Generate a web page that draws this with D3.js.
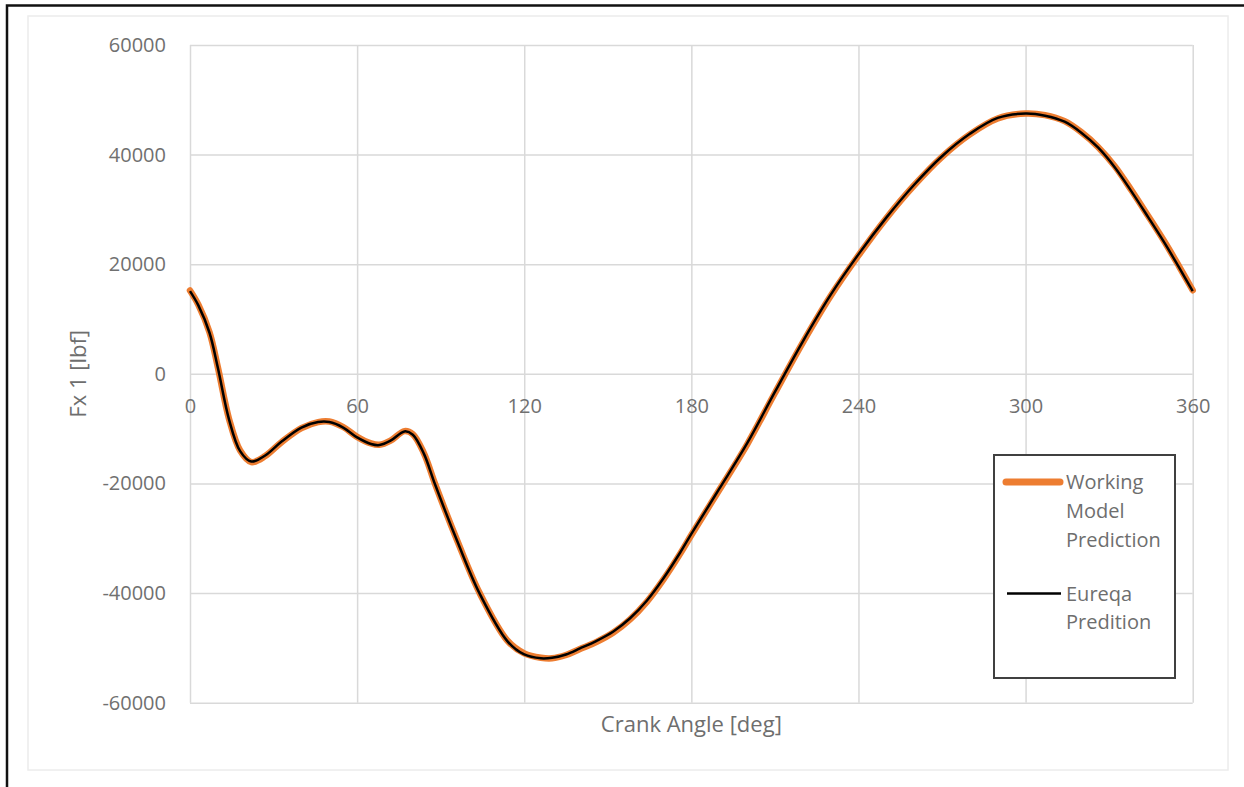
<!DOCTYPE html>
<meta charset="utf-8">
<script src="https://d3js.org/d3.v7.min.js"></script>
<style>
  body { margin: 0; background: #fff; }
  text { font-family: "Open Sans", sans-serif; fill: #6e6e6e; }
</style>
<div id="my_div"></div>

<script>
    // crank angle [deg] and Fx 1 [lbf]
    var angles = [0, 3, 7, 10, 14, 18, 22, 27, 33, 40, 46, 50, 55, 60, 65, 68, 72, 77, 80, 84, 88, 96,
                  104, 114, 120, 126, 130, 135, 140, 146, 152, 158, 164, 170, 176, 180, 190, 200, 210, 220,
                  230, 240, 250, 260, 270, 280, 290, 300, 307, 314, 320, 326, 332, 338, 344, 350, 355, 360]
    var workingModel = [15200, 12600, 7600, 1200, -8200, -14000, -16100, -15000, -12400, -9900, -8800, -8700,
                        -9700, -11500, -12700, -12950, -12200, -10450, -11000, -14500, -20100, -30500,
                        -40000, -48700, -51000, -51800, -51900, -51300, -50200, -48900, -47200, -44800,
                        -41600, -37500, -32800, -29400, -21200, -12900, -3500, 5700, 14200, 21600, 28400,
                        34400, 39600, 43700, 46600, 47500, 47200, 46100, 44100, 41400, 37900, 33500,
                        28800, 24000, 19700, 15250]
    var eureqa = [15100, 12500, 7500, 1100, -8300, -14100, -16000, -14900, -12300, -9800, -8800, -8800,
                  -9800, -11600, -12800, -13000, -12200, -10500, -11100, -14600, -20200, -30600,
                  -40100, -48800, -51200, -51900, -51800, -51200, -50100, -48700, -47000, -44600,
                  -41400, -37300, -32600, -29200, -21000, -12700, -3300, 5900, 14400, 21800, 28500,
                  34500, 39700, 43800, 46700, 47500, 47100, 46000, 44000, 41300, 37700, 33300,
                  28600, 23800, 19500, 15100]
    var xTicks = [0, 60, 120, 180, 240, 300, 360]
    var yTicks = [-60000, -40000, -20000, 0, 20000, 40000, 60000]

    var margin = {top: 45, right: 51.3, bottom: 84.3, left: 190},
      width = 1244 - margin.left - margin.right,
      height = 787 - margin.top - margin.bottom;

    var root = d3.select("#my_div")
      .append("svg")
        .attr("width", 1244)
        .attr("height", 787)

    // outer frame (black on top and left) and the pale chart area border
    root.append("rect")
      .attr("x", 28).attr("y", 16)
      .attr("width", 1200).attr("height", 754)
      .style("fill", "none")
      .style("stroke", "#ececec")
      .style("stroke-width", 1.5)
    root.append("path")
      .attr("d", "M7,787 V5.5 H1244")
      .style("fill", "none")
      .style("stroke", "#111")
      .style("stroke-width", 2.5)

    var svg = root.append("g")
      .attr("transform", "translate(" + margin.left + "," + margin.top + ")");

    var x = d3.scaleLinear()
      .domain([0, 360])
      .range([0, width]);
    var y = d3.scaleLinear()
      .domain([-60000, 60000])
      .range([height, 0]);

    // plain ascii minus like the original
    var fmt = function(d) { return String(d) }

    // gridlines
    svg.append("g")
      .attr("class", "grid")
      .call(d3.axisLeft(y).tickValues(yTicks).tickSize(-width).tickFormat(""))
    svg.append("g")
      .attr("class", "grid")
      .attr("transform", "translate(0," + height + ")")
      .call(d3.axisBottom(x).tickValues(xTicks).tickSize(-height).tickFormat(""))
    svg.selectAll(".grid .domain").remove()
    svg.selectAll(".grid line")
      .style("stroke", "#d9d9d9")
      .style("stroke-width", 1.5)

    // tick labels (x labels sit under the zero line)
    var yAxis = svg.append("g")
      .call(d3.axisLeft(y).tickValues(yTicks).tickSize(0).tickPadding(24).tickFormat(fmt))
    var xAxis = svg.append("g")
      .attr("transform", "translate(0," + y(0) + ")")
      .call(d3.axisBottom(x).tickValues(xTicks).tickSize(0).tickPadding(24.5).tickFormat(fmt))
    yAxis.select(".domain").remove()
    xAxis.select(".domain").remove()
    svg.selectAll(".tick text")
      .style("font-family", "'Open Sans', sans-serif")
      .style("font-size", "20px")
      .style("fill", "#707070")

    // curves
    var lineA = d3.line()
      .x(function(d, i) { return x(angles[i]) })
      .y(function(d) { return y(d) })
      .curve(d3.curveCatmullRom.alpha(0.5))

    svg.append("path")
      .datum(workingModel)
      .attr("d", lineA)
      .style("fill", "none")
      .style("stroke", "#ed7d31")
      .style("stroke-width", 6.5)
      .style("stroke-linejoin", "round")
      .style("stroke-linecap", "round")

    svg.append("path")
      .datum(eureqa)
      .attr("d", lineA)
      .style("fill", "none")
      .style("stroke", "#000")
      .style("stroke-width", 2.5)
      .style("stroke-linejoin", "round")

    // axis titles
    svg.append("text")
      .attr("x", width / 2)
      .attr("y", height + 22)
      .attr("dy", "0.35em")
      .attr("text-anchor", "middle")
      .style("font-size", "22px")
      .text("Crank Angle [deg]");

    svg.append("text")
      .attr("transform", "translate(" + (78 - margin.left) + "," + y(0) + ") rotate(-90)")
      .attr("dy", "0.35em")
      .attr("text-anchor", "middle")
      .style("font-size", "22px")
      .text("Fx 1 [lbf]");

    // legend
    var legend = root.append("g")
      .attr("transform", "translate(994,455)")
    legend.append("rect")
      .attr("width", 181)
      .attr("height", 223)
      .style("fill", "#fff")
      .style("stroke", "#404040")
      .style("stroke-width", 2)
    legend.append("line")
      .attr("x1", 12).attr("x2", 66).attr("y1", 27).attr("y2", 27)
      .style("stroke", "#ed7d31")
      .style("stroke-width", 7)
      .style("stroke-linecap", "round")
    legend.append("line")
      .attr("x1", 13).attr("x2", 67).attr("y1", 138.5).attr("y2", 138.5)
      .style("stroke", "#000")
      .style("stroke-width", 2.5)

    var legendLines = [["Working", "Model", "Prediction"], ["Eureqa", "Predition"]]
    var legendTop = [27, 138.5]
    legendLines.forEach(function(words, k) {
      words.forEach(function(w, j) {
        legend.append("text")
          .attr("x", 72)
          .attr("y", legendTop[k] + j * 28.8)
          .attr("dy", "0.35em")
          .style("font-size", "20px")
          .text(w)
      })
    })
</script>
